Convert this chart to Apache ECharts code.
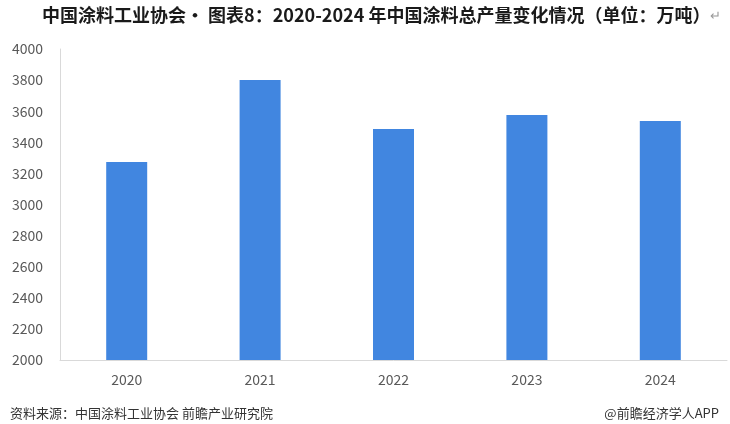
<!DOCTYPE html>
<html>
<head>
<meta charset="utf-8">
<script src="https://cdn.jsdelivr.net/npm/echarts@6/dist/echarts.min.js"></script>
<style>
  html, body { margin: 0; padding: 0; background: #fff; }
  #chart { width: 730px; height: 424px; }
</style>
</head>
<body>
<div id="chart"></div>
<script>
// 年份与产量（万吨）
const years = ['2020', '2021', '2022', '2023', '2024'];
const output = [3273, 3801, 3486, 3576, 3537];
const yTicks = { min: 2000, max: 4000, step: 200 };

const font = '"Noto Sans CJK SC", "Noto Sans", sans-serif';

let myChart = echarts.init(document.getElementById('chart'), null, { renderer: 'canvas' });

myChart.setOption({
    backgroundColor: '#fff',
    textStyle: { fontFamily: font },
    title: [
        {
            text: '中国涂料工业协会· 图表8：2020-2024 年中国涂料总产量变化情况（单位：万吨）{r|↵}',
            left: 37,
            top: 1,
            textStyle: {
                fontSize: 18,
                fontWeight: 'bold',
                color: '#1a1a1a',
                fontFamily: font,
                rich: { r: { color: '#999', fontSize: 13, fontWeight: 'normal' } }
            }
        },
        {
            text: '资料来源：中国涂料工业协会 前瞻产业研究院',
            left: 5,
            top: 402,
            textStyle: { fontSize: 13, fontWeight: 'normal', color: '#333', fontFamily: font }
        },
        {
            text: '@前瞻经济学人APP',
            right: 6,
            top: 402,
            textStyle: { fontSize: 13, fontWeight: 'normal', color: '#333', fontFamily: font }
        }
    ],
    grid: {
        top: 49,
        left: 60,
        right: 3,
        bottom: 64,
        containLabel: false
    },
    xAxis: {
        type: 'category',
        data: years,
        axisLine: { lineStyle: { color: '#d9d9d9' } },
        axisTick: { show: false },
        axisLabel: { color: '#595959', fontSize: 14, margin: 13 }
    },
    yAxis: {
        type: 'value',
        min: yTicks.min,
        max: yTicks.max,
        interval: yTicks.step,
        axisLine: { show: true, lineStyle: { color: '#d9d9d9' } },
        axisTick: { show: false },
        splitLine: { show: false },
        axisLabel: { color: '#595959', fontSize: 14, margin: 17, formatter: (v) => String(v) }
    },
    series: [
        {
            type: 'bar',
            data: output,
            barWidth: 41,
            itemStyle: { color: '#4186E0' }
        }
    ]
});
</script>
</body>
</html>
